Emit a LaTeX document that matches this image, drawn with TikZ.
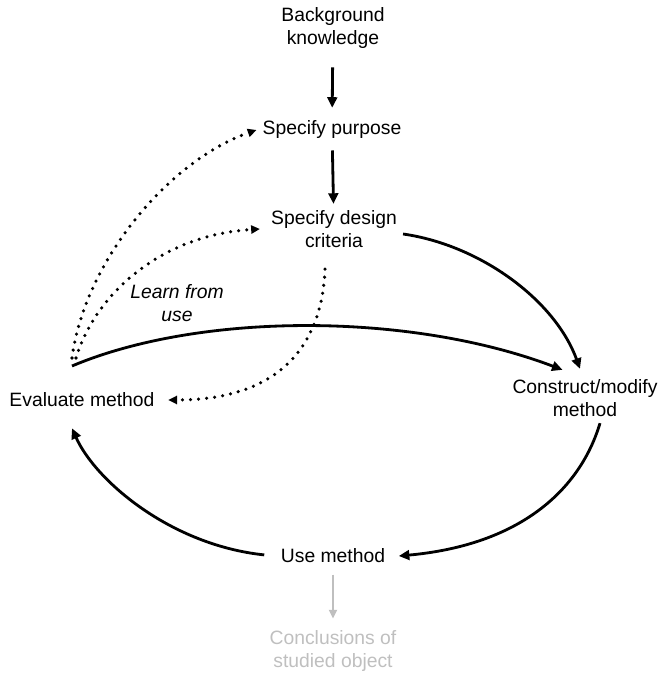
\documentclass[tikz,border=0pt]{standalone}
\usepackage{fontspec}
\setmainfont{Liberation Sans}
\usetikzlibrary{arrows.meta}

\begin{document}
\begin{tikzpicture}[
    x=0.02cm, y=-0.02cm,
    every node/.style={font=\fontsize{11}{13.5}\selectfont, align=center},
    flow/.style={draw, line width=1.6pt, -{Triangle[length=6pt,width=5.5pt]}},
    feedback/.style={draw, line width=2pt, line cap=round, dash pattern=on 0pt off 4.6pt,
                     -{Triangle[length=5pt,width=4.6pt]}},
    result/.style={draw, black!25, line width=1.2pt, -{Triangle[length=5pt,width=4.5pt]}}
]
\useasboundingbox (0,0) rectangle (659,675);

% process steps
\node (bk)        at (333,28)  {Background\\knowledge};
\node (purpose)   at (332,130) {Specify purpose};
\node (criteria)  at (334,229) {Specify design\\criteria};
\node (evaluate)  at (82,400)  {Evaluate method};
\node (construct) at (585,398) {Construct/modify\\method};
\node (use)       at (333,556) {Use method};
\node (concl)     at (333,651) [text=black!25] {Conclusions of\\studied object};
\node (learn)     at (177,303) [font=\fontsize{11}{13.5}\selectfont\itshape] {Learn from\\use};

\coordinate (hub) at (72,366);

% main cycle
\draw[flow, shorten <=7pt, shorten >=4pt] (bk) -- (purpose);
\draw[flow, shorten <=3pt] (purpose) -- (criteria);
\draw[flow] ([yshift=-0.1cm]criteria.east) .. controls (480,245) and (555,300) .. ([xshift=-0.1cm,yshift=0.08cm]construct.north);
\draw[flow] (hub) .. controls (200,312) and (410,312) .. ([xshift=-0.45cm,yshift=0.06cm]construct.north);
\draw[flow] ([xshift=0.3cm]construct.south) .. controls (580,490) and (520,545) .. ([xshift=0.15cm]use.east);
\draw[flow, shorten <=6pt] (use.west) .. controls (170,545) and (95,480) .. ([xshift=-0.2cm,yshift=-0.3cm]evaluate.south);

% learning from use
\draw[feedback] ([yshift=0.16cm]hub) .. controls (85,260) and (170,160) .. (purpose.west);
\draw[feedback] ([xshift=0.08cm,yshift=0.16cm]hub) .. controls (95,295) and (160,235) .. ([xshift=-0.1cm]criteria.west);
\draw[feedback] ([xshift=-0.18cm,yshift=-0.3cm]criteria.south) .. controls (322,345) and (280,400) .. ([xshift=0.15cm]evaluate.east);

% outcome
\draw[result, shorten <=3pt, shorten >=3pt] (use) -- (concl);

\end{tikzpicture}
\end{document}
